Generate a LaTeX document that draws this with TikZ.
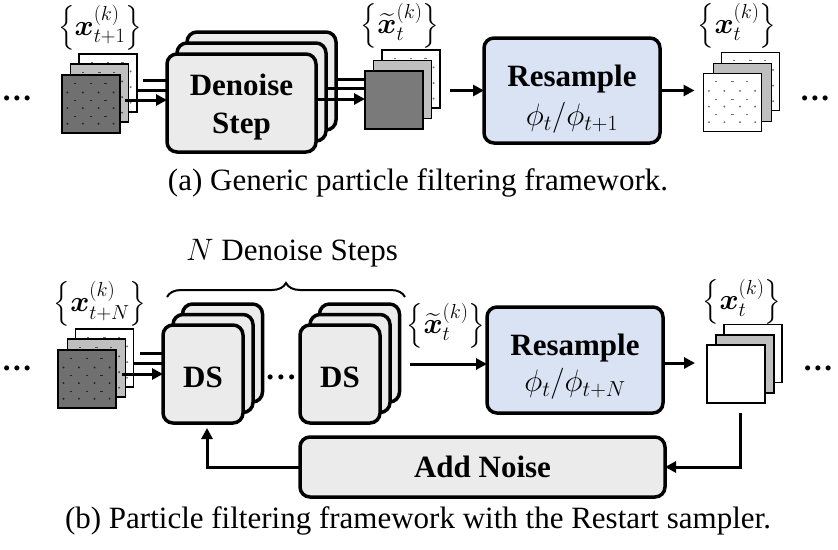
\documentclass[tikz,border=0pt]{standalone}
\usepackage{fix-cm}
\usepackage{amsmath}
\usepackage{fontspec}
\setmainfont{Liberation Serif}
\usetikzlibrary{arrows.meta,decorations.pathreplacing,calc}
\definecolor{boxgray}{HTML}{EBEBEB}
\definecolor{rsblue}{HTML}{DAE3F3}
\definecolor{sqdark}{HTML}{707070}
\definecolor{sqdarkb}{HTML}{7A7A7A}
\definecolor{sqmid}{HTML}{BFBFBF}
\newcommand{\dotgrid}[3]{%
  \foreach \u in {-0.406,-0.14,0.13,0.39}{\foreach \v in {-0.2,0.07,0.34}{\fill[#3] ({#1+\u*58},{#2+\v*58}) circle (1.1);}}%
  \foreach \u in {-0.28,0,0.25}{\foreach \v in {-0.36,-0.06,0.21}{\draw[#3,line width=0.7pt] ({#1+\u*58-1.2},{#2+\v*58}) -- ++(2.4,0);}}%
}
\tikzset{
  sq/.style={draw, line width=1.3pt, minimum size=58pt, inner sep=0pt, outer sep=0pt},
  rbox/.style={draw, line width=3.5pt, rounded corners=10pt, fill=boxgray, inner sep=0pt, outer sep=0pt},
  ln/.style={line width=3pt},
  arr/.style={line width=3pt, -{Triangle[length=11pt,width=11pt]}},
  lbl/.style={inner sep=0pt},
  mlbl/.style={inner sep=0pt, font=\fontsize{29}{35}\selectfont},
  bt/.style={font=\fontsize{31}{37}\selectfont\bfseries, inner sep=0pt},
}
\begin{document}
\begin{tikzpicture}[x=1pt,y=-1pt,font=\fontsize{31}{37}\selectfont]
\useasboundingbox (0,0) rectangle (838,549);

% ================= panel (a) =================
\node[lbl] (ldA) at (17,98) {\textbf{.\kern2.5pt.\kern2.5pt.}};
\node[mlbl] (laA) at (100,28) {$\left\{\boldsymbol{x}^{(k)}_{t+1}\right\}$};
\node[sq, fill=white] (a3) at (108,83) {};
\dotgrid{108}{83}{black!55}
\node[sq, fill=sqmid] (a2) at (99.5,93) {};
\dotgrid{99.5}{93}{black!70}
\node[sq, fill=sqdark] (a1) at (91,104) {};
\dotgrid{91}{104}{black!85}

\draw[ln] ($(a3.east)+(6,-3)$) -- ($(a3.east)+(75,-3)$);
\draw[ln] ($(a2.east)+(7,-3)$) -- ($(a2.east)+(80,-3)$);

\node[rbox, minimum width=149pt, minimum height=98pt] (dA3) at (261.5,81) {};
\node[rbox, minimum width=149pt, minimum height=98pt] (dA2) at (251.5,92) {};
\node[rbox, minimum width=149pt, minimum height=98pt] (dA1) at (241.5,103) {};
\node[bt] (dAt1) at (241.5,85) {Denoise};
\node[bt] (dAt2) at (241.5,127) {Step};
\draw[arr] ($(a1.east)+(5,-4)$) -- ($(dA1.west)+(0,-3)$);

\draw[ln] ($(dA3.east)+(0,-2)$) -- (380,79);
\draw[ln] ($(dA2.east)+(0,-4)$) -- (374,88);
\draw[arr] ($(dA1.east)+(0,-4)$) -- (365,99);

\node[mlbl] (lbA) at (400,26) {$\left\{\widetilde{\boldsymbol{x}}^{(k)}_{t}\right\}$};
\node[sq, fill=white] (xA3) at (411,79) {};
\dotgrid{411}{79}{black!55}
\node[sq, fill=sqmid] (xA2) at (402.5,89.5) {};
\node[sq, fill=sqdarkb] (xA1) at (394,100) {};

\node[rbox, fill=rsblue, minimum width=176pt, minimum height=105pt] (rA) at (572,90.5) {};
\node[bt] (rAt) at (572,79) {Resample};
\node[lbl] (rAm) at (572,118) {$\phi_t/\phi_{t+1}$};
\draw[arr] ($(xA3.east)+(10,11.5)$) -- (rA.west);

\node[mlbl] (lcA) at (737,26) {$\left\{\boldsymbol{x}^{(k)}_{t}\right\}$};
\node[sq, fill=white] (oA3) at (750.5,81.5) {};
\dotgrid{750.5}{81.5}{black!55}
\node[sq, fill=sqmid] (oA2) at (742.5,92.5) {};
\node[sq, fill=white] (oA1) at (732.5,102.5) {};
\dotgrid{732.5}{102.5}{black!55}
\draw[arr] (rA.east) -- ($(oA1.west)+(-9,-12)$);
\node[lbl] (rdA) at (815,98) {\textbf{.\kern2.5pt.\kern2.5pt.}};

\node[lbl] (capA) at (418,183) {(a) Generic particle filtering framework.};

% ================= panel (b) =================
\node[lbl] (nds) at (292,253) {$N$ Denoise Steps};
\coordinate (brL) at (167,297);
\coordinate (brR) at (405,297);
\draw[line width=2pt, decorate, decoration={brace, amplitude=14pt}] (brL) -- (brR);

\node[lbl] (ldB) at (17,368) {\textbf{.\kern2.5pt.\kern2.5pt.}};
\node[mlbl] (laB) at (100,304) {$\left\{\boldsymbol{x}^{(k)}_{t+N}\right\}$};
\node[sq, fill=white] (b3) at (104.5,358) {};
\dotgrid{104.5}{358}{black!55}
\node[sq, fill=sqmid] (b2) at (96.5,368) {};
\dotgrid{96.5}{368}{black!70}
\node[sq, fill=sqdark] (b1) at (87,379) {};
\dotgrid{87}{379}{black!85}

\draw[ln] ($(b3.east)+(6.5,-5)$) -- ($(b3.east)+(45,-5)$);
\draw[ln] ($(b2.east)+(7,-5)$) -- ($(b2.east)+(50,-5)$);

\node[rbox, minimum width=80pt, minimum height=98pt] (dB3) at (222.5,353) {};
\node[rbox, minimum width=80pt, minimum height=98pt] (dB2) at (213,363.5) {};
\node[rbox, minimum width=80pt, minimum height=98pt] (dB1) at (203,374) {};
\node[bt] (dBt) at (203,377) {DS};
\draw[arr] ($(b1.east)+(6,-5)$) -- (dB1.west);

\node[lbl] (mdots) at (281,377) {\textbf{.\kern3pt.\kern3pt.}};

\node[rbox, minimum width=80pt, minimum height=98pt] (eB3) at (359.5,353) {};
\node[rbox, minimum width=80pt, minimum height=98pt] (eB2) at (350,363.5) {};
\node[rbox, minimum width=80pt, minimum height=98pt] (eB1) at (340,374) {};
\node[bt] (eBt) at (340,377) {DS};

\node[mlbl] (lbB) at (446,326) {$\left\{\widetilde{\boldsymbol{x}}^{(k)}_{t}\right\}$};
\node[rbox, fill=rsblue, minimum width=176pt, minimum height=106pt] (rB) at (575,360) {};
\node[bt] (rBt) at (575,348) {Resample};
\node[lbl] (rBm) at (575,384) {$\phi_t/\phi_{t+N}$};
\draw[arr] ($(eB3.east)+(10,11)$) -- ($(rB.west)+(0,4)$);

\node[mlbl] (lcB) at (742,302) {$\left\{\boldsymbol{x}^{(k)}_{t}\right\}$};
\node[sq, fill=white] (oB3) at (753,353.5) {};
\node[sq, fill=sqmid] (oB2) at (745,364) {};
\node[sq, fill=white] (oB1) at (736,374) {};
\draw[arr] ($(rB.east)+(0,3)$) -- ($(oB1.west)+(-12,-11)$);
\node[lbl] (rdB) at (818,368) {\textbf{.\kern2.5pt.\kern2.5pt.}};

\node[rbox, minimum width=365pt, minimum height=60pt] (nB) at (482.5,467) {};
\node[bt] (nBt) at (482.5,467) {Add Noise};
\draw[arr] ($(oB1.south)+(4,10)$) |- (nB.east);
\draw[arr] (nB.west) -| ($(dB1.south)+(4,5)$);

\node[lbl] (capB) at (418,521) {(b) Particle filtering framework with the Restart sampler.};
\end{tikzpicture}
\end{document}
